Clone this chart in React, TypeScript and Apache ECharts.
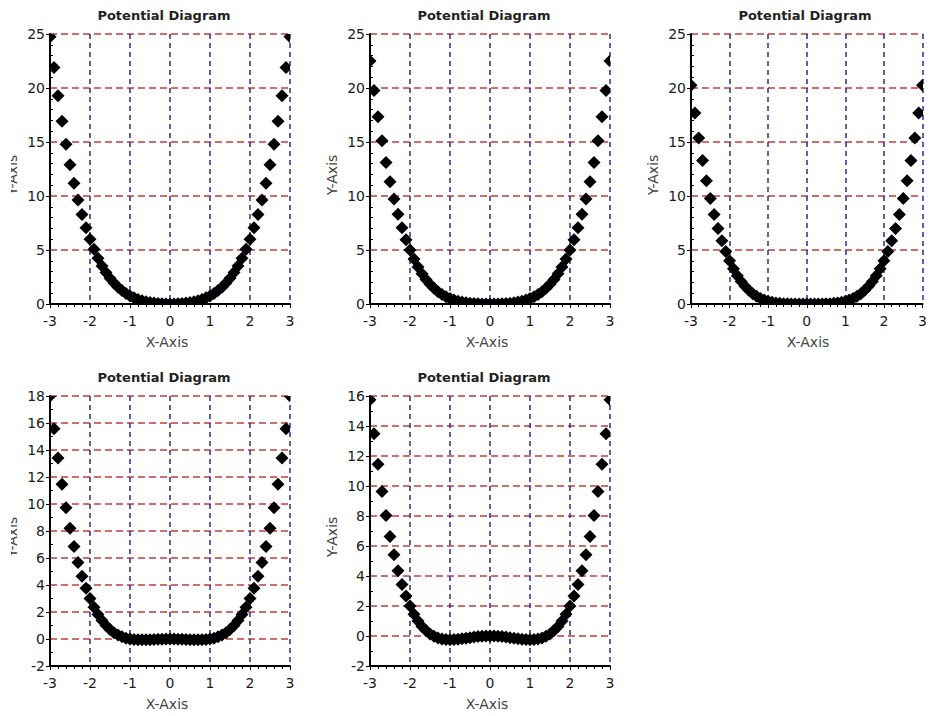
import React, { useEffect, useRef } from 'react';
import * as echarts from 'echarts';

const xs = [
  -3, -2.9, -2.8, -2.7, -2.6, -2.5, -2.4, -2.3, -2.2, -2.1, -2, -1.9, -1.8, -1.7, -1.6, -1.5,
  -1.4, -1.3, -1.2, -1.1, -1, -0.9, -0.8, -0.7, -0.6, -0.5, -0.4, -0.3, -0.2, -0.1, 0,
  0.1, 0.2, 0.3, 0.4, 0.5, 0.6, 0.7, 0.8, 0.9, 1, 1.1, 1.2, 1.3, 1.4, 1.5, 1.6, 1.7, 1.8,
  1.9, 2, 2.1, 2.2, 2.3, 2.4, 2.5, 2.6, 2.7, 2.8, 2.9, 3,
];

const potentialA = [
  24.75, 21.89, 19.29, 16.93, 14.8, 12.89, 11.17, 9.64, 8.28, 7.07, 6, 5.06, 4.24, 3.53, 2.92, 2.39,
  1.94, 1.56, 1.24, 0.97, 0.75, 0.57, 0.42, 0.31, 0.21, 0.14, 0.09, 0.05, 0.02, 0.01, 0,
  0.01, 0.02, 0.05, 0.09, 0.14, 0.21, 0.31, 0.42, 0.57, 0.75, 0.97, 1.24, 1.56, 1.94, 2.39, 2.92,
  3.53, 4.24, 5.06, 6, 7.07, 8.28, 9.64, 11.17, 12.89, 14.8, 16.93, 19.29, 21.89, 24.75,
];

const potentialB = [
  22.5, 19.78, 17.33, 15.11, 13.11, 11.33, 9.73, 8.32, 7.07, 5.96, 5, 4.16, 3.43, 2.81, 2.28, 1.83,
  1.45, 1.14, 0.88, 0.67, 0.5, 0.37, 0.26, 0.18, 0.12, 0.08, 0.05, 0.02, 0.01, 0, 0,
  0, 0.01, 0.02, 0.05, 0.08, 0.12, 0.18, 0.26, 0.37, 0.5, 0.67, 0.88, 1.14, 1.45, 1.83, 2.28,
  2.81, 3.43, 4.16, 5, 5.96, 7.07, 8.32, 9.73, 11.33, 13.11, 15.11, 17.33, 19.78, 22.5,
];

const potentialC = [
  20.25, 17.68, 15.37, 13.29, 11.42, 9.77, 8.29, 7, 5.86, 4.86, 4, 3.26, 2.62, 2.09, 1.64, 1.27,
  0.96, 0.71, 0.52, 0.37, 0.25, 0.16, 0.1, 0.06, 0.03, 0.02, 0.01, 0, 0, 0, 0,
  0, 0, 0, 0.01, 0.02, 0.03, 0.06, 0.1, 0.16, 0.25, 0.37, 0.52, 0.71, 0.96, 1.27, 1.64,
  2.09, 2.62, 3.26, 4, 4.86, 5.86, 7, 8.29, 9.77, 11.42, 13.29, 15.37, 17.68, 20.25,
];

const potentialD = [
  18, 15.58, 13.41, 11.46, 9.73, 8.2, 6.85, 5.67, 4.65, 3.76, 3, 2.36, 1.81, 1.37, 1, 0.7,
  0.47, 0.29, 0.16, 0.06, 0, -0.04, -0.06, -0.06, -0.06, -0.05, -0.03, -0.02, -0.01, 0, 0,
  0, -0.01, -0.02, -0.03, -0.05, -0.06, -0.06, -0.06, -0.04, 0, 0.06, 0.16, 0.29, 0.47, 0.7, 1,
  1.37, 1.81, 2.36, 3, 3.76, 4.65, 5.67, 6.85, 8.2, 9.73, 11.46, 13.41, 15.58, 18,
];

const potentialE = [
  15.75, 13.48, 11.45, 9.64, 8.04, 6.64, 5.41, 4.35, 3.44, 2.66, 2, 1.45, 1, 0.64, 0.36, 0.14,
  -0.02, -0.13, -0.2, -0.24, -0.25, -0.24, -0.22, -0.18, -0.15, -0.11, -0.07, -0.04, -0.02, 0, 0,
  0, -0.02, -0.04, -0.07, -0.11, -0.15, -0.18, -0.22, -0.24, -0.25, -0.24, -0.2, -0.13, -0.02, 0.14, 0.36,
  0.64, 1, 1.45, 2, 2.66, 3.44, 4.35, 5.41, 6.64, 8.04, 9.64, 11.45, 13.48, 15.75,
];

const panelSeries = [potentialA, potentialB, potentialC, potentialD, potentialE];
const yMins = [0, 0, 0, -2, -2];
const yMaxes = [25, 25, 25, 18, 16];
const yIntervals = [5, 5, 5, 2, 2];
const yMinorSplits = [5, 5, 5, 2, 2];
const xMin = -3;
const xMax = 3;
const xInterval = 1;

const titleText = 'Potential Diagram';
const xAxisName = 'X-Axis';
const yAxisName = 'Y-Axis';

// layout (pixels)
const grids = [
  { left: 50, top: 34, width: 240, height: 270 },
  { left: 370, top: 34, width: 240, height: 270 },
  { left: 691, top: 34, width: 240, height: 270 },
  { left: 50, top: 396, width: 240, height: 270 },
  { left: 370, top: 396, width: 240, height: 270 },
];

const FONT = '"DejaVu Sans", "Liberation Sans", sans-serif';
const RED = '#c23c3c';
const BLUE = '#2a2aa0';

export default function App() {
  const ref = useRef<HTMLDivElement>(null);

  useEffect(() => {
    if (!ref.current) return;
    const chart = echarts.init(ref.current, null, { renderer: 'svg' });

    const xAxes = grids.map((g, i) => ({
      type: 'value',
      gridIndex: i,
      min: xMin,
      max: xMax,
      interval: xInterval,
      axisLine: { show: true, onZero: false, lineStyle: { color: '#000', width: 2 } },
      axisTick: { show: true, length: 4, lineStyle: { color: '#000', width: 1 } },
      minorTick: { show: true, splitNumber: 5, length: 3, lineStyle: { color: '#000', width: 1 } },
      axisLabel: { margin: 10, color: '#1a1a1a', fontSize: 14, fontFamily: FONT },
      splitLine: {
        show: true,
        showMinLine: false,
        lineStyle: { color: BLUE, type: [5, 4], width: 1.5 },
      },
    }));

    const yAxes = grids.map((g, i) => ({
      type: 'value',
      gridIndex: i,
      min: yMins[i],
      max: yMaxes[i],
      interval: yIntervals[i],
      axisLine: { show: true, onZero: false, lineStyle: { color: '#000', width: 2 } },
      axisTick: { show: true, length: 4, lineStyle: { color: '#000', width: 1 } },
      minorTick: { show: true, splitNumber: yMinorSplits[i], length: -3, lineStyle: { color: '#000', width: 1 } },
      axisLabel: { margin: 5, color: '#1a1a1a', fontSize: 14, fontFamily: FONT },
      splitLine: {
        show: true,
        showMinLine: false,
        lineStyle: { color: RED, type: [7, 4], width: 1.5 },
      },
    }));

    const series = panelSeries.map((ys, i) => ({
      type: 'custom',
      xAxisIndex: i,
      yAxisIndex: i,
      clip: true,
      encode: { x: 0, y: 1 },
      data: xs.map((x, k) => [x, ys[k]]),
      renderItem: (params: any, api: any) => {
        const p = api.coord([api.value(0), api.value(1)]);
        const h = 6.5;
        return {
          type: 'polygon',
          shape: {
            points: [
              [p[0], p[1] - h],
              [p[0] + h, p[1]],
              [p[0], p[1] + h],
              [p[0] - h, p[1]],
            ],
          },
          style: { fill: '#000', stroke: null },
        };
      },
    }));

    const graphics: any[] = [];
    grids.forEach((g) => {
      const cx = g.left + g.width / 2;
      const cy = g.top + g.height / 2;
      graphics.push({
        type: 'text',
        x: cx - 6,
        y: g.top - 19,
        style: {
          text: titleText,
          textAlign: 'center',
          textVerticalAlign: 'middle',
          font: `bold 13px ${FONT}`,
          fill: '#222',
        },
      });
      graphics.push({
        type: 'text',
        x: cx - 3,
        y: g.top + g.height + 38,
        style: {
          text: xAxisName,
          textAlign: 'center',
          textVerticalAlign: 'middle',
          font: `14px ${FONT}`,
          fill: '#444',
        },
      });
      graphics.push({
        type: 'text',
        x: g.left - 38,
        y: cy + 6,
        rotation: Math.PI / 2,
        style: {
          text: yAxisName,
          textAlign: 'center',
          textVerticalAlign: 'middle',
          font: `14px ${FONT}`,
          fill: '#444',
        },
      });
    });
    // the left-most panels have their y-axis name cut at the image edge
    graphics.push({ type: 'rect', x: 0, y: 100, shape: { width: 11, height: 150 }, style: { fill: '#fff' } });
    graphics.push({ type: 'rect', x: 0, y: 460, shape: { width: 11, height: 150 }, style: { fill: '#fff' } });

    chart.setOption({
      animation: false,
      backgroundColor: '#fff',
      grid: grids.map((g) => ({ ...g, containLabel: false })),
      xAxis: xAxes,
      yAxis: yAxes,
      series,
      graphic: { elements: graphics },
    });

    return () => chart.dispose();
  }, []);

  return (
    <div
      ref={ref}
      style={{ position: 'fixed', left: 0, top: 0, width: 930, height: 716, overflow: 'hidden' }}
    />
  );
}
